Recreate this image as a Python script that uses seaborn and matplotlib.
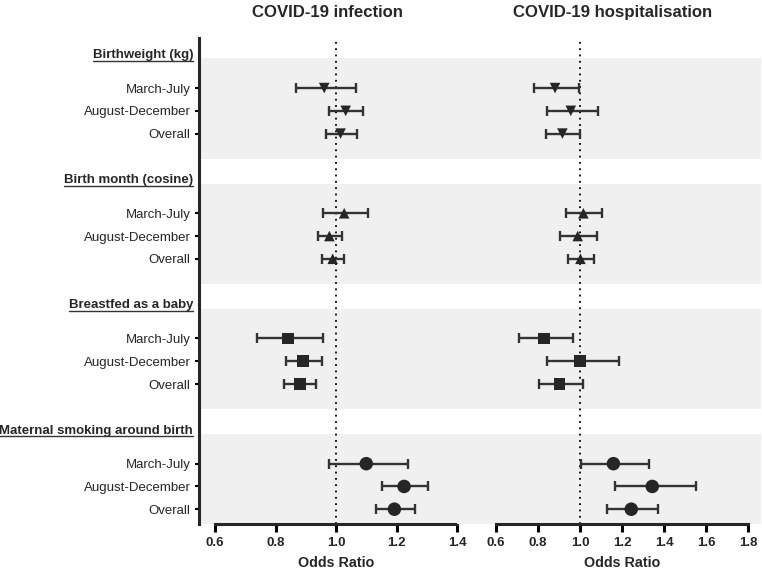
import numpy as np
import pandas as pd
import seaborn as sns
import matplotlib.pyplot as plt
from matplotlib.lines import Line2D

# data (odds ratio, lower CI, upper CI)
groups = ["Birthweight (kg)", "Birth month (cosine)", "Breastfed as a baby", "Maternal smoking around birth"]
periods = ["March-July", "August-December", "Overall"]
group_markers = ["v", "^", "s", "o"]
group_sizes = [58, 58, 70, 95]

inf_or = [0.961, 1.032, 1.015, 1.027, 0.978, 0.989, 0.841, 0.891, 0.880, 1.100, 1.225, 1.193]
inf_lo = [0.867, 0.977, 0.967, 0.956, 0.942, 0.955, 0.740, 0.834, 0.828, 0.978, 1.152, 1.131]
inf_hi = [1.067, 1.090, 1.068, 1.106, 1.019, 1.025, 0.958, 0.955, 0.935, 1.237, 1.304, 1.260]

hosp_or = [0.881, 0.956, 0.916, 1.016, 0.989, 1.002, 0.827, 1.000, 0.903, 1.159, 1.344, 1.244]
hosp_lo = [0.781, 0.841, 0.838, 0.932, 0.905, 0.944, 0.708, 0.844, 0.806, 1.006, 1.168, 1.127]
hosp_hi = [0.997, 1.086, 1.002, 1.106, 1.082, 1.067, 0.967, 1.187, 1.013, 1.329, 1.552, 1.373]

panel_titles = ["COVID-19 infection", "COVID-19 hospitalisation"]
left_ticks = [0.6, 0.8, 1.0, 1.2, 1.4]
right_ticks = [0.6, 0.8, 1.0, 1.2, 1.4, 1.6, 1.8]

sns.set_style("white")
plt.rcParams['font.family'] = ['Liberation Sans', 'DejaVu Sans']

GAP = 5.5
rows = []
for gi, g in enumerate(groups):
    for pi, p in enumerate(periods):
        k = gi * 3 + pi
        rows.append({'group': g, 'period': p, 'y': gi * GAP + pi,
                     'inf': inf_or[k], 'inf_lo': inf_lo[k], 'inf_hi': inf_hi[k],
                     'hosp': hosp_or[k], 'hosp_lo': hosp_lo[k], 'hosp_hi': hosp_hi[k]})
df = pd.DataFrame(rows)

W, H = 762, 569
fig = plt.figure(figsize=(W / 100, H / 100), dpi=100)
bot = (H - 524) / H
hgt = (524 - 38) / H
ax1 = fig.add_axes([199 / W, bot, 258 / W, hgt])
ax2 = fig.add_axes([457 / W, bot, 304 / W, hgt])
ylim = (19.15, -2.2)
dark = '#262626'

panels = [(ax1, 'inf', (0.547, 1.4), left_ticks), (ax2, 'hosp', (0.414, 1.862), right_ticks)]
for ax, col, xlim, ticks in panels:
    ax.set_facecolor('none')
    for gi in range(len(groups)):
        ax.axhspan(gi * GAP - 1.3, gi * GAP + 3.1, color='#f0f0f0', lw=0, zorder=0)
    ax.axvline(1.0, color='black', ls=(0, (1, 2.5)), lw=1.3, zorder=1)
    ax.errorbar(df[col], df['y'], xerr=[df[col] - df[col + '_lo'], df[col + '_hi'] - df[col]],
                fmt='none', ecolor='#333333', elinewidth=1.7, capsize=3.6, capthick=1.7, zorder=2)
    for gi, g in enumerate(groups):
        sub = df[df['group'] == g]
        sns.scatterplot(data=sub, x=col, y='y', marker=group_markers[gi], s=group_sizes[gi],
                        color=dark, edgecolor='none', linewidth=0, zorder=3, ax=ax, legend=False)
    ax.set_xlim(*xlim)
    ax.set_ylim(*ylim)
    ax.set_xticks(ticks)
    ax.set_xticklabels([f"{t:.1f}" for t in ticks], fontweight='bold', fontsize=9.5)
    ax.spines['bottom'].set_bounds(ticks[0], ticks[-1])
    ax.spines['bottom'].set_linewidth(2.2)
    ax.spines['top'].set_visible(False)
    ax.spines['right'].set_visible(False)
    ax.tick_params(axis='x', length=6, width=2.2, color='black', pad=3, bottom=True)
    ax.set_xlabel("")
    ax.set_ylabel("")
    ax.text((ticks[0] + ticks[-1]) / 2, -0.081, "Odds Ratio", transform=ax.get_xaxis_transform(),
            ha='center', va='center', fontweight='bold', fontsize=10.3)

ax1.spines['left'].set_linewidth(2.2)
ax1.set_yticks(df['y'])
ax1.set_yticklabels(df['period'], fontsize=9.5)
ax1.tick_params(axis='y', length=3, width=1.5, color='black', pad=3, left=True)
ax2.spines['left'].set_visible(False)
ax2.set_yticks([])

# group headers (bold, underlined)
headers = []
for gi, g in enumerate(groups):
    t = ax1.annotate(g, xy=(0, gi * GAP - 1.45), xycoords=ax1.get_yaxis_transform(),
                     xytext=(-4.3, 0), textcoords='offset points', ha='right', va='center',
                     fontweight='bold', fontsize=9.5)
    headers.append(t)

fig.text(327.5 / W, 1 - 12.5 / H, panel_titles[0], ha='center', va='center', fontweight='bold', fontsize=12.1)
fig.text(612.5 / W, 1 - 12.5 / H, panel_titles[1], ha='center', va='center', fontweight='bold', fontsize=12.1)

fig.canvas.draw()
r = fig.canvas.get_renderer()
for t in headers:
    bb = t.get_window_extent(renderer=r).transformed(fig.transFigure.inverted())
    fig.add_artist(Line2D([bb.x0, bb.x1], [bb.y0 + 0.5 / H, bb.y0 + 0.5 / H], color='#333333', lw=1.0))

fig.savefig("out.png", dpi=100)
